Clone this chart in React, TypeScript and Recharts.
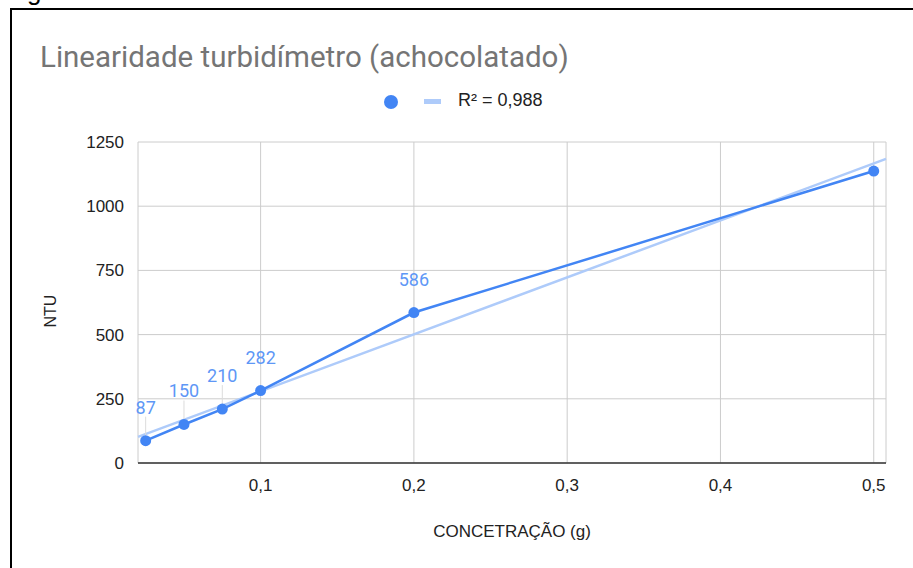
import {
  ScatterChart,
  Scatter,
  XAxis,
  YAxis,
  CartesianGrid,
} from 'recharts';

const concentracao = [0.025, 0.05, 0.075, 0.1, 0.2, 0.5];
const ntu = [87, 150, 210, 282, 586, 1137];
const rotulos = ['87', '150', '210', '282', '586', ''];

const tendenciaX = [0.02, 0.508];
const tendenciaY = [102, 1184];

const xTicks = [0.1, 0.2, 0.3, 0.4, 0.5];
const yTicks = [0, 250, 500, 750, 1000, 1250];

const BLUE = '#4285f4';
const TREND = '#aecbfa';
const AXIS_FONT = 'Liberation Sans, Arial, sans-serif';

const dados = concentracao.map((x, i) => ({ x, y: ntu[i], label: rotulos[i] }));
const tendencia = tendenciaX.map((x, i) => ({ x, y: tendenciaY[i] }));

const virgula = (v: number) => String(v).replace('.', ',');

function Ponto(props: any) {
  const { cx, cy, payload } = props;
  if (cx == null || cy == null) return <g />;
  return (
    <g>
      {payload.label ? (
        <>
          <line x1={cx} x2={cx} y1={cy - 24} y2={cy - 5} stroke="#dcdcdc" strokeWidth={1} />
          <text
            x={cx}
            y={cy - 27}
            textAnchor="middle"
            fill="#5e97f6"
            fontSize={18}
            fontFamily="Roboto, sans-serif"
          >
            {payload.label}
          </text>
        </>
      ) : null}
      <circle cx={cx} cy={cy} r={5.5} fill={BLUE} />
    </g>
  );
}

export default function App() {
  return (
    <div
      style={{
        position: 'fixed',
        left: 0,
        top: 0,
        width: 913,
        height: 568,
        background: '#fff',
        overflow: 'hidden',
      }}
    >
      <span
        style={{
          position: 'absolute',
          left: 27,
          top: -24,
          fontSize: 26,
          fontFamily: AXIS_FONT,
          color: '#000',
        }}
      >
        g
      </span>
      <div
        style={{
          position: 'absolute',
          left: 10,
          top: 8,
          width: 1000,
          height: 700,
          borderLeft: '2px solid #000',
          borderTop: '2px solid #000',
        }}
      />
      <div
        style={{
          position: 'absolute',
          left: 40,
          top: 39,
          fontSize: 29.5,
          lineHeight: '36px',
          fontFamily: 'Roboto, sans-serif',
          color: '#757575',
          whiteSpace: 'nowrap',
        }}
      >
        Linearidade turbidímetro (achocolatado)
      </div>

      {/* legenda */}
      <div
        style={{
          position: 'absolute',
          left: 384,
          top: 95,
          width: 14,
          height: 14,
          borderRadius: '50%',
          background: BLUE,
        }}
      />
      <div
        style={{
          position: 'absolute',
          left: 424,
          top: 99,
          width: 17,
          height: 5,
          background: TREND,
        }}
      />
      <div
        style={{
          position: 'absolute',
          left: 458,
          top: 90,
          fontSize: 18,
          fontFamily: AXIS_FONT,
          color: '#222',
          whiteSpace: 'nowrap',
        }}
      >
        R² = 0,988
      </div>

      <div style={{ position: 'absolute', left: 0, top: 0 }}>
        <ScatterChart
          width={913}
          height={568}
          margin={{ top: 142, right: 27, bottom: 65, left: 48 }}
        >
          <CartesianGrid stroke="#cccccc" strokeWidth={1} />
          <XAxis
            type="number"
            dataKey="x"
            domain={[0.02, 0.508]}
            ticks={xTicks}
            tickFormatter={virgula}
            tickLine={false}
            axisLine={{ stroke: '#333', strokeWidth: 1.5 }}
            tickMargin={10}
            height={40}
            tick={{ fill: '#222', fontSize: 17, fontFamily: AXIS_FONT }}
            label={{
              content: () => (
                <text
                  x={512}
                  y={537}
                  textAnchor="middle"
                  fill="#222"
                  fontSize={17}
                  fontFamily={AXIS_FONT}
                >
                  CONCETRAÇÃO (g)
                </text>
              ),
            }}
          />
          <YAxis
            type="number"
            dataKey="y"
            domain={[0, 1250]}
            ticks={yTicks}
            tickLine={false}
            axisLine={false}
            width={90}
            tickMargin={8}
            tick={{ fill: '#222', fontSize: 17, fontFamily: AXIS_FONT }}
            label={{
              content: () => (
                <text
                  x={56}
                  y={311}
                  transform="rotate(-90 56 311)"
                  textAnchor="middle"
                  fill="#222"
                  fontSize={16}
                  fontFamily={AXIS_FONT}
                >
                  NTU
                </text>
              ),
            }}
          />
          <Scatter
            data={tendencia}
            line={{ stroke: TREND, strokeWidth: 2.5 }}
            shape={() => <g />}
            isAnimationActive={false}
          />
          <Scatter
            data={dados}
            fill={BLUE}
            line={{ stroke: BLUE, strokeWidth: 2.5 }}
            shape={(p: any) => <Ponto {...p} />}
            isAnimationActive={false}
          />
        </ScatterChart>
      </div>
    </div>
  );
}
